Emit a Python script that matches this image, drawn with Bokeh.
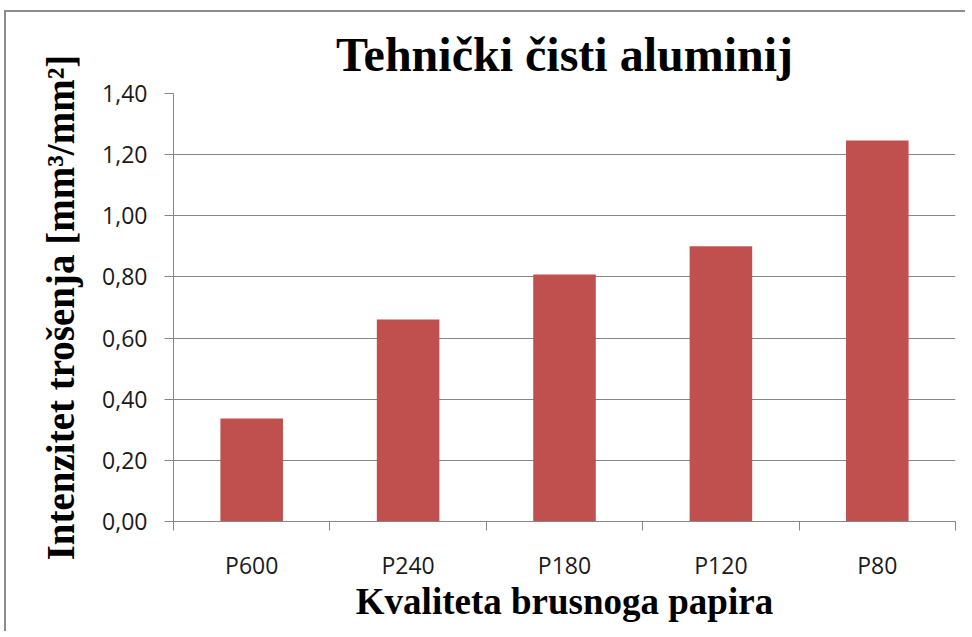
from bokeh.plotting import figure
from bokeh.models import FixedTicker, CustomJSTickFormatter, Range1d
from bokeh.embed import file_html
from bokeh.resources import INLINE

# Data
categories = ["P600", "P240", "P180", "P120", "P80"]
values = [0.337, 0.661, 0.808, 0.900, 1.246]
y_ticks = [0.0, 0.2, 0.4, 0.6, 0.8, 1.0, 1.2, 1.4]

title_text = "Tehnički čisti aluminij"
x_title = "Kvaliteta brusnoga papira"
y_title = "Intenzitet trošenja [mm³/mm²]"

bar_color = "#C0504D"
axis_color = "#868686"

n = len(categories)
centers = [i + 0.5 for i in range(n)]
bounds = [float(i) for i in range(n + 1)]

p = figure(
    frame_width=782, frame_height=428,
    min_border_left=167, min_border_right=10,
    min_border_top=81, min_border_bottom=110,
    x_range=Range1d(0, n), y_range=Range1d(0, 1.4),
    output_backend="svg", toolbar_location=None,
    title=title_text,
    styles={"border-left": "2px solid #8c8c8c", "border-top": "2px solid #8c8c8c",
            "margin-left": "4px", "margin-top": "10px"},
)

p.vbar(x=centers, top=values, width=0.4, color=bar_color, line_color=None)

# Title
p.title.text_font = "Liberation Serif"
p.title.text_font_size = "48px"
p.title.text_font_style = "bold"
p.title.align = "center"
p.title.text_color = "#000000"
p.title.standoff = 26

# X axis
xa = p.xaxis[0]
xa.ticker = FixedTicker(ticks=centers, minor_ticks=bounds)
xa.formatter = CustomJSTickFormatter(args=dict(labels=categories),
                                     code="return labels[Math.round(tick - 0.5)];")
xa.major_tick_out = 0
xa.major_tick_in = 0
xa.minor_tick_out = 9
xa.minor_tick_in = 0
xa.minor_tick_line_color = axis_color
xa.axis_line_color = axis_color
xa.major_label_standoff = 18
xa.major_label_text_font = "Open Sans"
xa.major_label_text_font_size = "23px"
xa.major_label_text_color = "#1a1a1a"
xa.axis_label = x_title
xa.axis_label_text_font = "Liberation Serif"
xa.axis_label_text_font_size = "37px"
xa.axis_label_text_font_style = "bold"
xa.axis_label_text_color = "#000000"
xa.axis_label_standoff = -3

# Y axis
ya = p.yaxis[0]
ya.ticker = FixedTicker(ticks=y_ticks)
ya.formatter = CustomJSTickFormatter(code="return tick.toFixed(2).replace('.', ',');")
ya.major_tick_out = 9
ya.major_tick_in = 0
ya.minor_tick_out = 0
ya.minor_tick_in = 0
ya.major_tick_line_color = axis_color
ya.axis_line_color = axis_color
ya.major_label_standoff = 17
ya.major_label_text_font = "Open Sans"
ya.major_label_text_font_size = "23px"
ya.major_label_text_color = "#1a1a1a"
ya.axis_label = y_title
ya.axis_label_text_font = "Liberation Serif"
ya.axis_label_text_font_size = "39px"
ya.axis_label_text_font_style = "bold"
ya.axis_label_text_color = "#000000"
ya.axis_label_standoff = 17

p.xgrid.grid_line_color = None
p.ygrid.grid_line_color = axis_color
p.ygrid.ticker = FixedTicker(ticks=y_ticks)
p.outline_line_color = None
p.background_fill_color = "white"
p.border_fill_color = "white"

open("out.html", "w").write(file_html(p, INLINE))
